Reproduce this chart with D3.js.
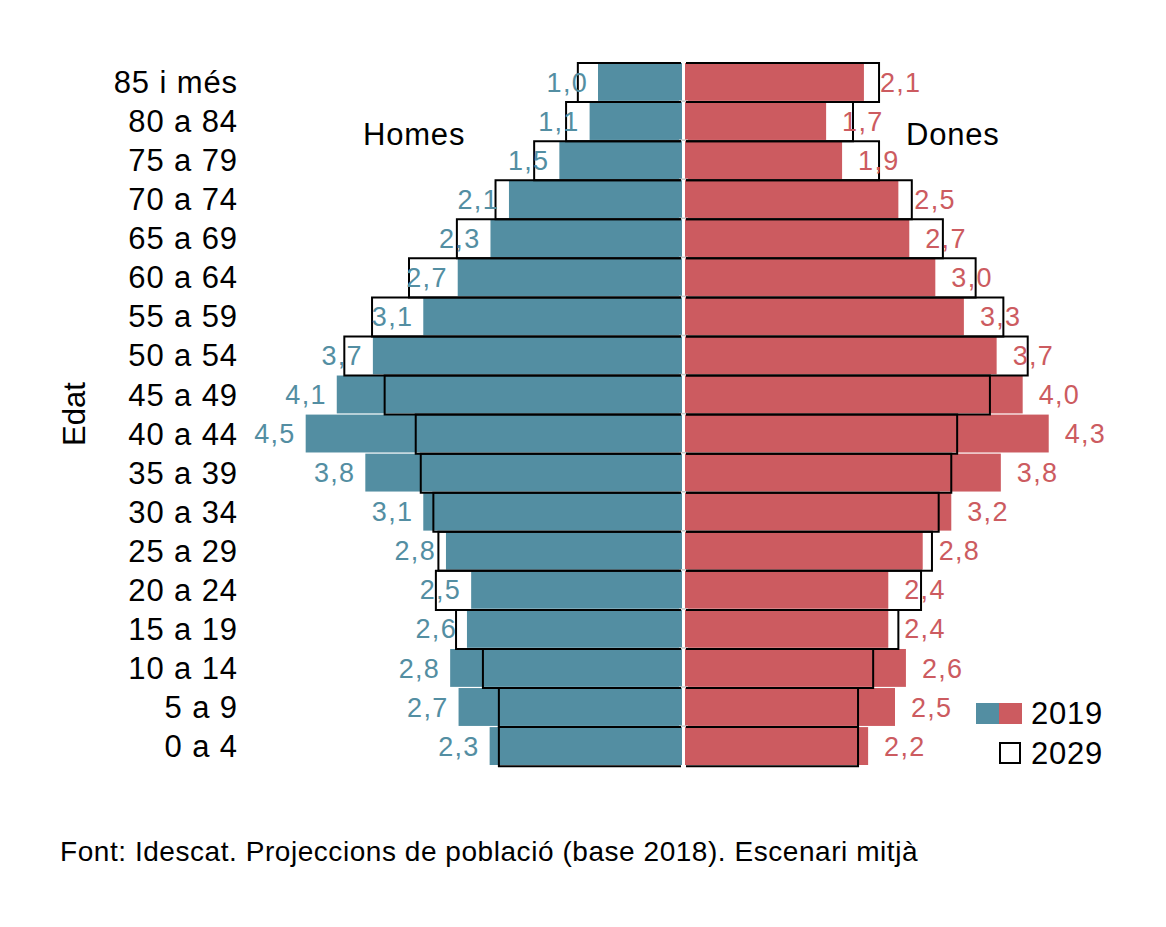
<!DOCTYPE html>
<html>
<head>
<meta charset="utf-8">
<script src="https://cdn.jsdelivr.net/npm/d3@7"></script>
<style>
  body { margin: 0; background: #fff; }
  svg text { font-family: "Liberation Sans", Arial, sans-serif; }
</style>
</head>
<body>
<div class="pyramid"></div>
<script>
// age groups, top to bottom as drawn
const ages = ['85 i més','80 a 84','75 a 79','70 a 74','65 a 69','60 a 64','55 a 59','50 a 54',
  '45 a 49','40 a 44','35 a 39','30 a 34','25 a 29','20 a 24','15 a 19','10 a 14','5 a 9','0 a 4'];

// % of population
const homes2019 = [1.0,1.1,1.46,2.06,2.28,2.67,3.08,3.68,4.11,4.48,3.77,3.08,2.81,2.51,2.56,2.76,2.66,2.29];
const homes2029 = [1.24,1.38,1.76,2.22,2.68,3.25,3.69,4.02,3.54,3.17,3.11,2.96,2.90,2.93,2.69,2.37,2.18,2.18];
const dones2019 = [2.13,1.68,1.87,2.54,2.67,2.98,3.32,3.71,4.02,4.33,3.76,3.17,2.83,2.42,2.42,2.63,2.50,2.18];
const dones2029 = [2.31,2.0,2.31,2.70,3.07,3.46,3.79,4.08,3.63,3.24,3.17,3.02,2.94,2.81,2.54,2.24,2.06,2.06];

const legendYears = ['2019','2029'];

const width = 1166;
const height = 927;
const blue = '#538ea2';
const red = '#cc5b60';

const svg = d3.select('.pyramid').append('svg')
  .attr('width', width)
  .attr('height', height);

const y = d3.scaleBand().domain(ages).range([63, 765]).paddingInner(0.03);
const xL = d3.scaleLinear().domain([0, 5]).range([682, 682 - 420]);
const xR = d3.scaleLinear().domain([0, 5]).range([685, 685 + 420]);

const fmt = v => d3.format('.1f')(v).replace('.', ',');

const rows = ages.map((a, i) => ({age: a, h19: homes2019[i], h29: homes2029[i], d19: dones2019[i], d29: dones2029[i]}));

// 2019 filled bars
svg.selectAll('.bar-h')
  .data(rows)
  .enter()
  .append('rect')
  .attr('class', 'bar-h')
  .attr('fill', blue)
  .attr('x', d => xL(d.h19))
  .attr('y', d => y(d.age))
  .attr('width', d => xL(0) - xL(d.h19))
  .attr('height', y.bandwidth());

svg.selectAll('.bar-d')
  .data(rows)
  .enter()
  .append('rect')
  .attr('class', 'bar-d')
  .attr('fill', red)
  .attr('x', xR(0))
  .attr('y', d => y(d.age))
  .attr('width', d => xR(d.d19) - xR(0))
  .attr('height', y.bandwidth());

// center ticks
svg.selectAll('.tick-c')
  .data(ages.slice(1))
  .enter()
  .append('line')
  .attr('x1', 679).attr('x2', 688)
  .attr('y1', d => y(d) - 1).attr('y2', d => y(d) - 1)
  .attr('stroke', '#c8c8c8')
  .attr('stroke-width', 1.5);

// 2029 outlines, open on the centre side
const outline = (x0, x1, d) => {
  const t = y(d.age), b = t + y.step();
  return `M${x0},${t}H${x1}V${b}H${x0}`;
};

svg.selectAll('.out-h')
  .data(rows)
  .enter()
  .append('path')
  .attr('fill', 'none')
  .attr('stroke', '#000')
  .attr('stroke-width', 2)
  .attr('d', d => outline(xL(0) - 1, xL(d.h29), d));

svg.selectAll('.out-d')
  .data(rows)
  .enter()
  .append('path')
  .attr('fill', 'none')
  .attr('stroke', '#000')
  .attr('stroke-width', 2)
  .attr('d', d => outline(xR(0) + 1, xR(d.d29), d));

// value labels (2019)
svg.selectAll('.lab-h')
  .data(rows)
  .enter()
  .append('text')
  .attr('x', d => xL(d.h19) - 10)
  .attr('y', d => y(d.age) + y.step() / 2)
  .attr('dominant-baseline', 'central')
  .attr('text-anchor', 'end')
  .attr('font-size', 27)
  .attr('letter-spacing', 1.3)
  .attr('fill', blue)
  .text(d => fmt(d.h19));

svg.selectAll('.lab-d')
  .data(rows)
  .enter()
  .append('text')
  .attr('x', d => xR(d.d19) + 16)
  .attr('y', d => y(d.age) + y.step() / 2)
  .attr('dominant-baseline', 'central')
  .attr('text-anchor', 'start')
  .attr('font-size', 27)
  .attr('letter-spacing', 1.3)
  .attr('fill', red)
  .text(d => fmt(d.d19));

// age axis labels
svg.selectAll('.age')
  .data(ages)
  .enter()
  .append('text')
  .attr('x', 238)
  .attr('y', d => y(d) + y.step() / 2)
  .attr('dominant-baseline', 'central')
  .attr('text-anchor', 'end')
  .attr('font-size', 31)
  .attr('letter-spacing', 0.9)
  .text(d => d);

svg.append('text')
  .attr('transform', 'translate(85,414) rotate(-90)')
  .attr('text-anchor', 'middle')
  .attr('font-size', 31)
  .text('Edat');

svg.append('text')
  .attr('x', 363).attr('y', 145)
  .attr('font-size', 31)
  .attr('letter-spacing', 0.8)
  .text('Homes');

svg.append('text')
  .attr('x', 906).attr('y', 145)
  .attr('font-size', 31)
  .attr('letter-spacing', 0.8)
  .text('Dones');

// legend
svg.append('rect').attr('x', 976).attr('y', 703).attr('width', 23).attr('height', 21).attr('fill', blue);
svg.append('rect').attr('x', 999).attr('y', 703).attr('width', 23).attr('height', 21).attr('fill', red);
svg.append('rect').attr('x', 1000).attr('y', 743).attr('width', 20).attr('height', 20)
  .attr('fill', 'none').attr('stroke', '#000').attr('stroke-width', 2);

svg.selectAll('.leg')
  .data(legendYears)
  .enter()
  .append('text')
  .attr('x', 1031)
  .attr('y', (d, i) => 724 + i * 40)
  .attr('font-size', 31)
  .attr('letter-spacing', 0.8)
  .text(d => d);

svg.append('text')
  .attr('x', 60).attr('y', 861)
  .attr('font-size', 28)
  .attr('letter-spacing', 0.55)
  .text('Font: Idescat. Projeccions de població (base 2018). Escenari mitjà');
</script>
</body>
</html>
